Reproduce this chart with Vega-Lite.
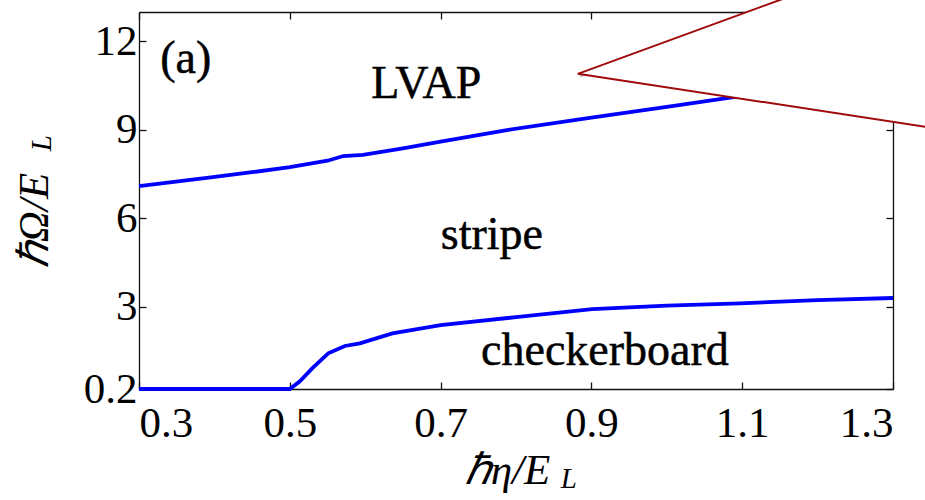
{
  "$schema": "https://vega.github.io/schema/vega-lite/v6.json",
  "autosize": {"type": "none"},
  "width": 754,
  "height": 377,
  "padding": {"left": 139, "top": 12, "right": 32, "bottom": 111},
  "background": "white",
  "config": {
    "view": {"stroke": null},
    "font": "Liberation Serif",
    "axis": {
      "grid": false,
      "domainColor": "#111111",
      "domainWidth": 1.3,
      "tickColor": "#111111",
      "tickWidth": 1.3,
      "tickSize": -7,
      "labelFont": "Liberation Serif",
      "labelFontSize": 43,
      "labelColor": "black",
      "titleFont": "Liberation Serif",
      "titleFontStyle": "italic",
      "titleFontWeight": "normal",
      "titleFontSize": 43,
      "titleColor": "black"
    }
  },
  "datasets": {
    "boundaries": [
      {"eta": 0.3, "omega": 7.09, "boundary": "LVAP-stripe"},
      {"eta": 0.398, "omega": 7.39, "boundary": "LVAP-stripe"},
      {"eta": 0.45, "omega": 7.56, "boundary": "LVAP-stripe"},
      {"eta": 0.5, "omega": 7.73, "boundary": "LVAP-stripe"},
      {"eta": 0.55, "omega": 7.95, "boundary": "LVAP-stripe"},
      {"eta": 0.571, "omega": 8.11, "boundary": "LVAP-stripe"},
      {"eta": 0.597, "omega": 8.15, "boundary": "LVAP-stripe"},
      {"eta": 0.65, "omega": 8.37, "boundary": "LVAP-stripe"},
      {"eta": 0.7, "omega": 8.6, "boundary": "LVAP-stripe"},
      {"eta": 0.788, "omega": 8.99, "boundary": "LVAP-stripe"},
      {"eta": 0.9, "omega": 9.41, "boundary": "LVAP-stripe"},
      {"eta": 1.0, "omega": 9.78, "boundary": "LVAP-stripe"},
      {"eta": 1.1, "omega": 10.15, "boundary": "LVAP-stripe"},
      {"eta": 1.2, "omega": 10.45, "boundary": "LVAP-stripe"},
      {"eta": 1.3, "omega": 10.75, "boundary": "LVAP-stripe"},
      {"eta": 0.3, "omega": 0.2, "boundary": "stripe-checkerboard"},
      {"eta": 0.5, "omega": 0.2, "boundary": "stripe-checkerboard"},
      {"eta": 0.513, "omega": 0.45, "boundary": "stripe-checkerboard"},
      {"eta": 0.53, "omega": 0.91, "boundary": "stripe-checkerboard"},
      {"eta": 0.551, "omega": 1.41, "boundary": "stripe-checkerboard"},
      {"eta": 0.573, "omega": 1.66, "boundary": "stripe-checkerboard"},
      {"eta": 0.593, "omega": 1.75, "boundary": "stripe-checkerboard"},
      {"eta": 0.636, "omega": 2.09, "boundary": "stripe-checkerboard"},
      {"eta": 0.7, "omega": 2.37, "boundary": "stripe-checkerboard"},
      {"eta": 0.8, "omega": 2.64, "boundary": "stripe-checkerboard"},
      {"eta": 0.901, "omega": 2.91, "boundary": "stripe-checkerboard"},
      {"eta": 1.0, "omega": 3.03, "boundary": "stripe-checkerboard"},
      {"eta": 1.097, "omega": 3.11, "boundary": "stripe-checkerboard"},
      {"eta": 1.2, "omega": 3.22, "boundary": "stripe-checkerboard"},
      {"eta": 1.3, "omega": 3.29, "boundary": "stripe-checkerboard"}
    ],
    "callout": [
      {"eta": 0.882, "top": 10.9, "bottom": 10.9},
      {"eta": 1.442, "top": 16.14, "bottom": 8.72}
    ],
    "phases": [
      {"eta": 0.362, "omega": 10.93, "label": "(a)"},
      {"eta": 0.681, "omega": 10.08, "label": "LVAP"},
      {"eta": 0.768, "omega": 4.95, "label": "stripe"},
      {"eta": 0.918, "omega": 1.02, "label": "checkerboard"}
    ],
    "subscripts": [
      {"eta": 0.870, "omega": -2.86, "angle": 0, "label": "L"},
      {"eta": 0.171, "omega": 8.55, "angle": 270, "label": "L"}
    ]
  },
  "resolve": {"axis": {"x": "independent", "y": "independent"}},
  "layer": [
    {
      "data": {"name": "boundaries"},
      "mark": {"type": "line", "color": "#0000ff", "strokeWidth": 3.8, "clip": false},
      "encoding": {
        "x": {
          "field": "eta", "type": "quantitative",
          "scale": {"domain": [0.3, 1.3], "nice": false, "zero": false},
          "axis": {
            "values": [0.3, 0.5, 0.7, 0.9, 1.1, 1.3],
            "format": ".1f",
            "labelPadding": 20,
            "title": "ℏη/E",
            "titleX": 368,
            "titleY": 94,
            "titleBaseline": "alphabetic",
            "titleAnchor": "middle"
          }
        },
        "y": {
          "field": "omega", "type": "quantitative",
          "scale": {"domain": [0.2, 13], "nice": false, "zero": false},
          "axis": {
            "values": [0.2, 3, 6, 9, 12],
            "labelExpr": "datum.value == 0.2 ? '0.2' : format(datum.value, 'd')",
            "labelPadding": 9,
            "title": "ℏΩ/E",
            "titleAngle": -90,
            "titleX": -92,
            "titleY": 208,
            "titleBaseline": "alphabetic",
            "titleAlign": "center"
          }
        },
        "detail": {"field": "boundary", "type": "nominal"}
      }
    },
    {
      "data": {"name": "phases"},
      "mark": {"type": "text", "font": "Liberation Serif", "fontSize": 46, "color": "black", "stroke": "black", "strokeWidth": 0.5, "align": "center", "baseline": "alphabetic"},
      "encoding": {
        "x": {"field": "eta", "type": "quantitative",
              "axis": {"orient": "top", "values": [0.3, 0.5, 0.7, 0.9, 1.1, 1.3], "labels": false, "title": null}},
        "y": {"field": "omega", "type": "quantitative",
              "axis": {"orient": "right", "values": [0.2, 3, 6, 9, 12], "labels": false, "title": null}},
        "text": {"field": "label"}
      }
    },
    {
      "data": {"name": "subscripts"},
      "mark": {"type": "text", "font": "Liberation Serif", "fontStyle": "italic", "fontSize": 29, "color": "black", "align": "center", "baseline": "middle", "clip": false},
      "encoding": {
        "x": {"field": "eta", "type": "quantitative", "axis": null},
        "y": {"field": "omega", "type": "quantitative", "axis": null},
        "angle": {"field": "angle", "type": "quantitative", "scale": null},
        "text": {"field": "label"}
      }
    },
    {
      "data": {"name": "callout"},
      "mark": {"type": "area", "color": "#777777", "opacity": 0.35, "xOffset": 2, "yOffset": 4, "clip": false},
      "encoding": {
        "x": {"field": "eta", "type": "quantitative", "axis": null},
        "y": {"field": "top", "type": "quantitative", "axis": null},
        "y2": {"field": "bottom"}
      }
    },
    {
      "data": {"name": "callout"},
      "mark": {"type": "area", "fill": "white", "stroke": "#a00a0a", "strokeWidth": 2, "clip": false},
      "encoding": {
        "x": {"field": "eta", "type": "quantitative", "axis": null},
        "y": {"field": "top", "type": "quantitative", "axis": null},
        "y2": {"field": "bottom"}
      }
    }
  ]
}
